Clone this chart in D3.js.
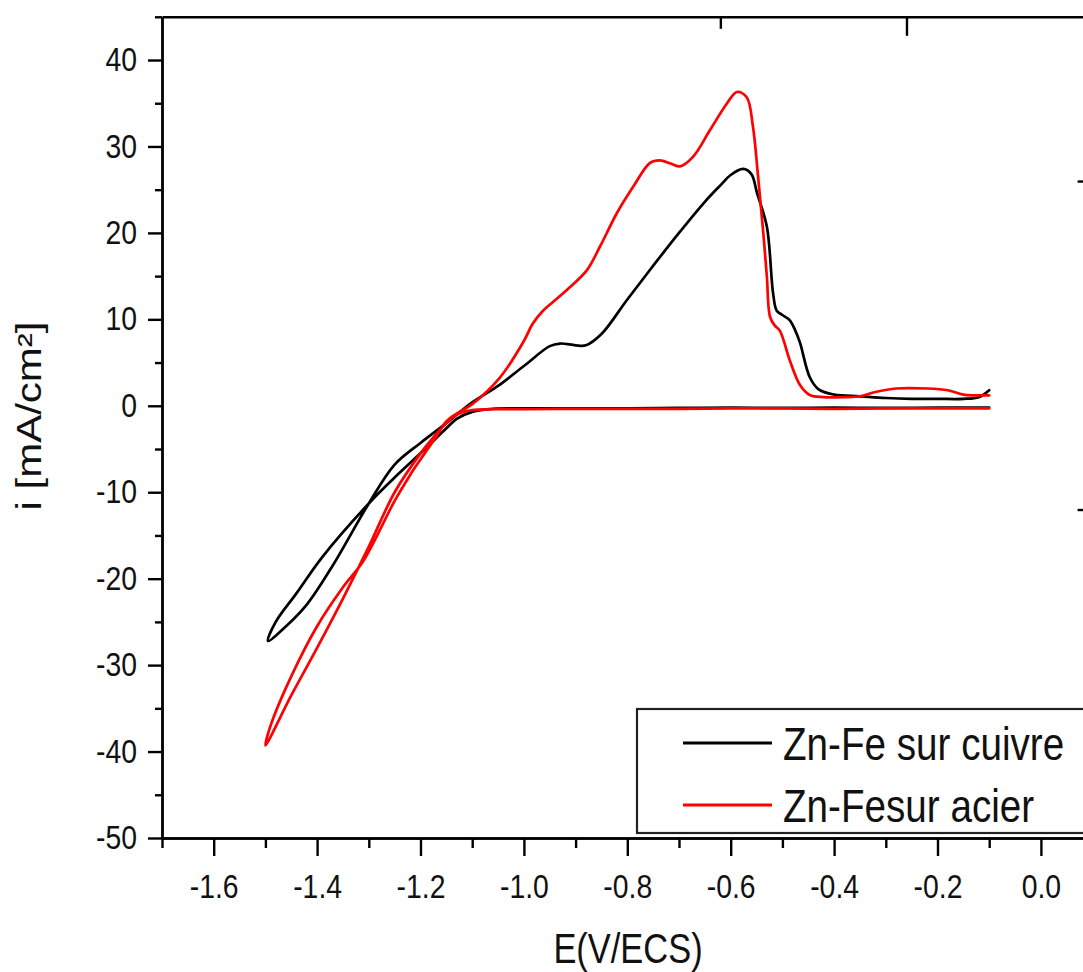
<!DOCTYPE html>
<html>
<head>
<meta charset="utf-8">
<script src="https://cdn.jsdelivr.net/npm/d3@7/dist/d3.min.js"></script>
<style>
  html, body { margin: 0; padding: 0; background: #fff; }
  svg { display: block; }
  text { font-family: Arial, "Liberation Sans", sans-serif; fill: #111; }
</style>
</head>
<body>
<svg id="chart" width="1083" height="972"></svg>
<script>
// ---------------- data ----------------
const seriesNames = ["Zn-Fe sur cuivre", "Zn-Fesur acier"];
const seriesColors = ["#000000", "#ff0000"];

// Zn-Fe sur cuivre (black) : potential E (V/ECS) and current i (mA/cm²)
const cuivreE = [-0.10, -0.20, -0.30, -0.40, -0.50, -0.60, -0.70, -0.80, -0.90, -1.00, -1.06, -1.10, -1.13, -1.15,
  -1.20, -1.25, -1.30, -1.39, -1.44, -1.48, -1.495,
  -1.46, -1.42, -1.37, -1.30, -1.25, -1.20, -1.15, -1.10, -1.05, -1.00, -0.95, -0.93, -0.90, -0.88, -0.85,
  -0.80, -0.75, -0.70, -0.65, -0.62, -0.60, -0.576, -0.56, -0.549, -0.53, -0.518, -0.511, -0.50, -0.486,
  -0.475, -0.466, -0.447, -0.43, -0.40, -0.35, -0.30, -0.25, -0.20, -0.15, -0.12, -0.10];
const cuivreI = [-0.2, -0.2, -0.25, -0.2, -0.25, -0.2, -0.25, -0.3, -0.3, -0.3, -0.35, -0.7, -1.5, -2.6,
  -5.5, -8.3, -11.3, -17.5, -21.7, -25.0, -27.2,
  -25.5, -23.0, -18.5, -11.3, -6.8, -4.3, -2.0, 0.4, 2.3, 4.6, 6.9, 7.2, 7.0, 7.0, 8.3,
  12.3, 16.2, 20.0, 23.6, 25.5, 26.7, 27.4, 26.8, 24.6, 20.7, 13.0, 11.0, 10.5, 9.9,
  8.7, 7.3, 3.3, 1.9, 1.3, 1.1, 0.9, 0.8, 0.8, 0.8, 1.0, 1.8];

// Zn-Fe sur acier (red)
const acierE = [-0.10, -0.20, -0.30, -0.40, -0.50, -0.60, -0.70, -0.80, -0.90, -1.00, -1.06, -1.10, -1.13, -1.15,
  -1.18, -1.20, -1.25, -1.30, -1.35, -1.40, -1.45, -1.50,
  -1.49, -1.45, -1.40, -1.35, -1.31, -1.25, -1.22, -1.20, -1.17, -1.15, -1.13, -1.10, -1.046, -1.00,
  -0.983, -0.963, -0.94, -0.917, -0.878, -0.853, -0.82, -0.789, -0.756, -0.737, -0.715, -0.698, -0.673,
  -0.64, -0.607, -0.588, -0.569, -0.557, -0.547, -0.538, -0.530, -0.524, -0.515, -0.505, -0.486, -0.466,
  -0.447, -0.42, -0.38, -0.35, -0.32, -0.28, -0.22, -0.18, -0.15, -0.10];
const acierI = [-0.3, -0.3, -0.3, -0.35, -0.3, -0.3, -0.35, -0.35, -0.35, -0.4, -0.4, -0.5, -1.0, -2.0,
  -4.0, -5.5, -10.0, -16.3, -22.3, -28.0, -33.5, -39.3,
  -37.0, -31.3, -25.5, -21.0, -17.9, -11.0, -8.0, -6.2, -3.6, -1.8, -0.9, 0.2, 3.3, 7.5,
  9.5, 11.0, 12.2, 13.4, 15.7, 18.4, 22.3, 25.3, 28.1, 28.4, 28.0, 27.7, 28.8,
  31.9, 35.0, 36.3, 35.7, 32.3, 26.5, 20.7, 14.9, 10.3, 9.3, 8.7, 5.3, 2.4,
  1.25, 1.0, 1.0, 1.1, 1.6, 2.0, 2.0, 1.8, 1.3, 1.2];

// axis ticks
const xMajorTicks = [-1.6, -1.4, -1.2, -1.0, -0.8, -0.6, -0.4, -0.2, 0.0];
const xMinorTicks = [-1.7, -1.5, -1.3, -1.1, -0.9, -0.7, -0.5, -0.3, -0.1];
const yMajorTicks = [-50, -40, -30, -20, -10, 0, 10, 20, 30, 40];
const yMinorTicks = [-45, -35, -25, -15, -5, 5, 15, 25, 35, 45];
const topMajorTicks = [-0.26];
const topMinorTicks = [-0.62];
const rightTicks = [26, -12];

const xLabel = "E(V/ECS)";
const yLabel = "i [mA/cm²]";

// ---------------- layout ----------------
const svg = d3.select("#chart");
const W = 1083, H = 972;
svg.append("rect").attr("width", W).attr("height", H).attr("fill", "#fff");

const x = d3.scaleLinear().domain([-1.7, 0.1]).range([162, 1092.6]);
const y = d3.scaleLinear().domain([-50, 45]).range([838, 16.8]);

const AX = 2.4;   // axis stroke
const TICK_FONT = 33, TICK_SX = 0.86;

function styleAxis(g) {
  g.selectAll("path.domain").attr("stroke", "#000").attr("stroke-width", AX);
  g.selectAll(".tick line").attr("stroke", "#000").attr("stroke-width", AX);
}

// bottom axis
const gxMinor = svg.append("g").attr("transform", `translate(0,${y(-50)})`)
  .call(d3.axisBottom(x).tickValues(xMinorTicks).tickSize(10).tickSizeOuter(0).tickFormat(""));
styleAxis(gxMinor);
const gx = svg.append("g").attr("transform", `translate(0,${y(-50)})`)
  .call(d3.axisBottom(x).tickValues(xMajorTicks).tickSize(18).tickSizeOuter(0).tickFormat(d3.format(".1f")));
styleAxis(gx);
gx.selectAll(".tick text")
  .attr("font-size", TICK_FONT).attr("fill", "#111")
  .attr("y", 60).attr("dy", 0)
  .attr("transform", `scale(${TICK_SX},1)`)
  .text(d => d3.format(".1f")(d).replace("−", "-"));

// left axis
const gyMinor = svg.append("g").attr("transform", `translate(${x(-1.7)},0)`)
  .call(d3.axisLeft(y).tickValues(yMinorTicks).tickSize(7).tickSizeOuter(0).tickFormat(""));
styleAxis(gyMinor);
const gy = svg.append("g").attr("transform", `translate(${x(-1.7)},0)`)
  .call(d3.axisLeft(y).tickValues(yMajorTicks).tickSize(14).tickSizeOuter(0).tickFormat(d3.format("d")));
styleAxis(gy);
gy.selectAll(".tick text")
  .attr("font-size", TICK_FONT).attr("fill", "#111")
  .attr("x", -25 / TICK_SX)
  .attr("transform", `scale(${TICK_SX},1)`)
  .text(d => String(d));

// top axis (frame line with a couple of inward ticks)
const gtop = svg.append("g").attr("transform", `translate(0,${y(45)})`)
  .call(d3.axisTop(x).tickValues(topMajorTicks).tickSize(-19).tickSizeOuter(0).tickFormat(""));
styleAxis(gtop);
const gtopMinor = svg.append("g").attr("transform", `translate(0,${y(45)})`)
  .call(d3.axisTop(x).tickValues(topMinorTicks).tickSize(-12).tickSizeOuter(0).tickFormat(""));
styleAxis(gtopMinor);
gtopMinor.select("path.domain").remove();

// right axis (mostly cropped)
const gright = svg.append("g").attr("transform", `translate(${x(0.1)},0)`)
  .call(d3.axisRight(y).tickValues(rightTicks).tickSize(-15).tickSizeOuter(0).tickFormat(""));
styleAxis(gright);

// ---------------- curves ----------------
const line = d3.line()
  .x(d => x(d[0])).y(d => y(d[1]))
  .curve(d3.curveCatmullRom.alpha(0.5));

const series = [
  d3.zip(cuivreE, cuivreI),
  d3.zip(acierE, acierI)
];
series.forEach((pts, k) => {
  svg.append("path")
    .datum(pts)
    .attr("d", line)
    .attr("fill", "none")
    .attr("stroke", seriesColors[k])
    .attr("stroke-width", 2.7)
    .attr("stroke-linejoin", "round")
    .attr("stroke-linecap", "round");
});

// ---------------- labels ----------------
svg.append("text")
  .attr("transform", `translate(628,963) scale(0.82,1)`)
  .attr("text-anchor", "middle")
  .attr("font-size", 42)
  .text(xLabel);

svg.append("text")
  .attr("transform", `translate(41,416) rotate(-90) scale(1,0.82)`)
  .attr("text-anchor", "middle")
  .attr("font-size", 42)
  .text(yLabel);

// ---------------- legend ----------------
const leg = svg.append("g");
leg.append("rect")
  .attr("x", 637).attr("y", 709).attr("width", 470).attr("height", 124)
  .attr("fill", "#fff").attr("stroke", "#222").attr("stroke-width", 2.2);
const legRowY = [743, 805];
seriesNames.forEach((name, k) => {
  leg.append("line")
    .attr("x1", 683).attr("x2", 772)
    .attr("y1", legRowY[k]).attr("y2", legRowY[k])
    .attr("stroke", seriesColors[k]).attr("stroke-width", 3);
  leg.append("text")
    .attr("transform", `translate(783,${legRowY[k] + 17}) scale(0.84,1)`)
    .attr("font-size", 46)
    .text(name);
});
</script>
</body>
</html>
